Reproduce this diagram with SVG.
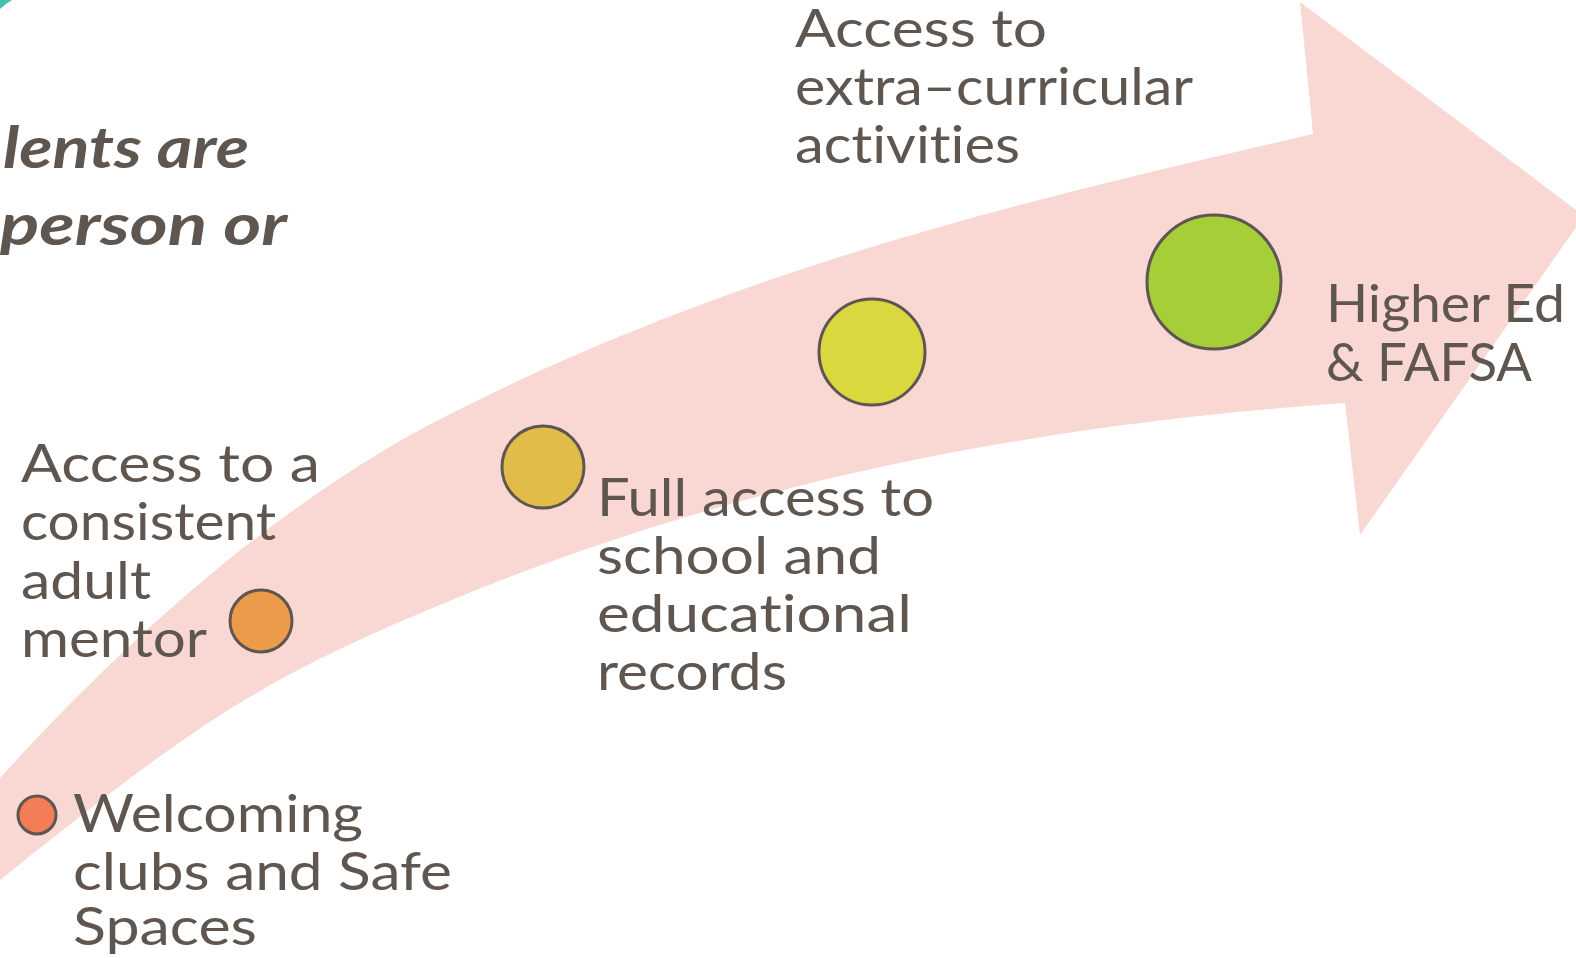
<svg xmlns="http://www.w3.org/2000/svg" width="1576" height="958" viewBox="0 0 1576 958">
<style>
.lbl{font-family:"Lato","Liberation Sans",sans-serif;font-weight:400;font-size:52px;fill:#5F5650;font-variant-ligatures:none}
.ttl{font-family:"Lato","Liberation Sans",sans-serif;font-weight:700;font-style:italic;font-size:58px;fill:#5F5650}
.dot{stroke:#5E5650;stroke-width:3}
</style>
<rect width="1576" height="958" fill="#FFFFFF"/>
<path d="M0,0 L12,0 Q5,4 0,9 Z" fill="#47BDB2"/>
<g id="connectors">
<path id="arrow" fill="#F9D7D2" d="M0,778 C150,613 300,490 450,414 C740,267 1023,201 1313,134 L1300,2 L1584,216 L1360,535 L1345,403 C1050,424 754,476 459,597 C259,679 200,720 0,880 L-60,930 L-60,846 Z"/>
</g>
<g id="title">
<text class="ttl" x="3" y="168" textLength="246" lengthAdjust="spacingAndGlyphs">lents are</text>
<text class="ttl" x="0" y="245" textLength="287" lengthAdjust="spacingAndGlyphs">person or</text>
</g>
<g id="node1">
<circle class="dot" cx="37" cy="815" r="19" fill="#F47C57"/>
<text class="lbl" x="73" y="832" textLength="290" lengthAdjust="spacingAndGlyphs">Welcoming</text>
<text class="lbl" x="73" y="890" textLength="379" lengthAdjust="spacingAndGlyphs">clubs and Safe</text>
<text class="lbl" x="73" y="945" textLength="184" lengthAdjust="spacingAndGlyphs">Spaces</text>
</g>
<g id="node2">
<circle class="dot" cx="261" cy="621" r="31" fill="#EC9B4B"/>
<text class="lbl" x="21" y="482" textLength="299" lengthAdjust="spacingAndGlyphs">Access to a</text>
<text class="lbl" x="21" y="540" textLength="255" lengthAdjust="spacingAndGlyphs">consistent</text>
<text class="lbl" x="21" y="599" textLength="130" lengthAdjust="spacingAndGlyphs">adult</text>
<text class="lbl" x="21" y="657" textLength="186" lengthAdjust="spacingAndGlyphs">mentor</text>
</g>
<g id="node3">
<circle class="dot" cx="543" cy="467" r="41" fill="#E2BC48"/>
<text class="lbl" x="597" y="516" textLength="337" lengthAdjust="spacingAndGlyphs">Full access to</text>
<text class="lbl" x="597" y="574" textLength="284" lengthAdjust="spacingAndGlyphs">school and</text>
<text class="lbl" x="597" y="632" textLength="315" lengthAdjust="spacingAndGlyphs">educational</text>
<text class="lbl" x="597" y="690" textLength="190" lengthAdjust="spacingAndGlyphs">records</text>
</g>
<g id="node4">
<circle class="dot" cx="872" cy="352" r="53" fill="#D9D83F"/>
<text class="lbl" x="795" y="47" textLength="252" lengthAdjust="spacingAndGlyphs">Access to</text>
<text class="lbl" x="795" y="105" textLength="398" lengthAdjust="spacingAndGlyphs">extra–curricular</text>
<text class="lbl" x="795" y="163" textLength="225" lengthAdjust="spacingAndGlyphs">activities</text>
</g>
<g id="node5">
<circle class="dot" cx="1214" cy="282" r="67" fill="#A5CE39"/>
<text class="lbl" x="1326" y="322" textLength="239" lengthAdjust="spacingAndGlyphs">Higher Ed</text>
<text class="lbl" x="1326" y="381" textLength="206" lengthAdjust="spacingAndGlyphs">&amp; FAFSA</text>
</g>
</svg>
